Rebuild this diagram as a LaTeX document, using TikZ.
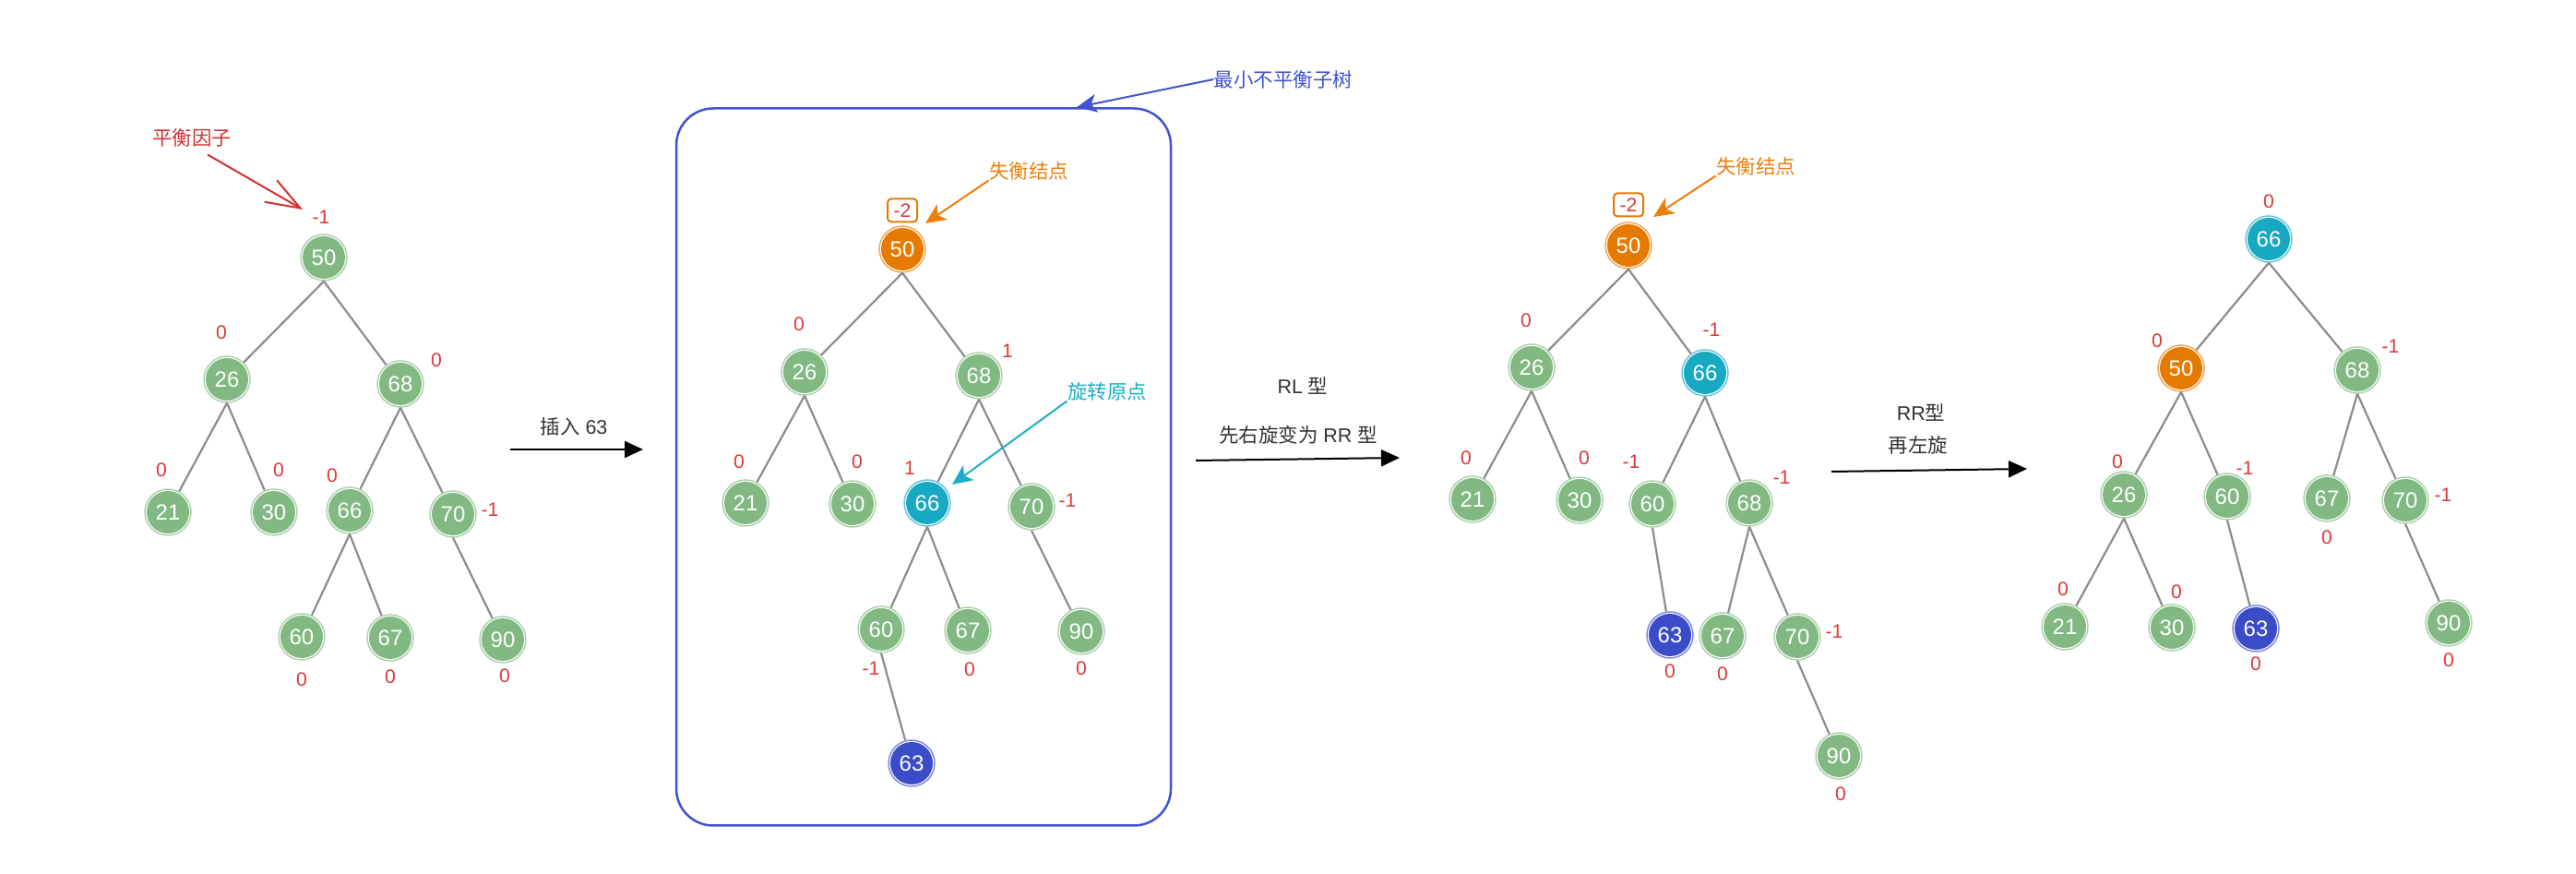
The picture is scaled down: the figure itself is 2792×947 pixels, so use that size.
\documentclass[tikz,border=0pt]{standalone}
\usepackage{fontspec}
\setmainfont{Liberation Sans}
\newfontfamily\cjk{Noto Sans CJK SC}
\usetikzlibrary{arrows.meta,positioning}

\definecolor{ndgreen}{HTML}{82B983}
\definecolor{ndorange}{HTML}{E67A00}
\definecolor{ndcyan}{HTML}{17A9C1}
\definecolor{ndblue}{HTML}{3A4CC8}
\definecolor{bfred}{HTML}{DB3838}
\definecolor{linkgray}{HTML}{8C8C8C}
\definecolor{boxblue}{HTML}{4054CF}
\definecolor{notered}{HTML}{D32F2F}
\definecolor{noteorange}{HTML}{EA7F0B}
\definecolor{notecyan}{HTML}{1CAEC7}
\definecolor{txtgray}{HTML}{333333}

\begin{document}
\begin{tikzpicture}[
  x=0.1mm, y=-0.1mm, on grid,
  >={Triangle[length=2mm, width=1.8mm]},
  nd/.style={circle, minimum size=5mm, inner sep=0pt, fill=white, draw=#1!65, line width=0.15mm,
    text=white, font=\fontsize{6.8}{8}\selectfont,
    path picture={\fill[#1] (path picture bounding box.center) circle (2.3mm);}},
  nd/.default=ndgreen,
  bf/.style={text=bfred, inner sep=0pt, font=\fontsize{6}{7}\selectfont},
  fbox/.style={draw=ndorange, line width=0.2mm, rounded corners=0.4mm, minimum width=3.2mm,
    minimum height=2.5mm, inner sep=0pt, text=bfred, font=\fontsize{6}{7}\selectfont},
  txt/.style={inner sep=0pt, font=\fontsize{6.1}{7}\selectfont},
  subbox/.style={draw=boxblue, line width=0.25mm, rounded corners=4mm, minimum width=53.6mm,
    minimum height=77.7mm, inner sep=0pt},
  link/.style={draw=linkgray, line width=0.22mm},
  move/.style={->, line width=0.2mm},
  note/.style={line width=0.2mm, -{Stealth[length=2.2mm, width=2mm, inset=0.6mm]}},
  barb/.style={draw=notered, line width=0.2mm, -{Straight Barb[length=3.7mm, width=2.7mm]}}
]
  \useasboundingbox (0,0) rectangle (2792,947);

  \node[nd] (a50) at (351,279) {50};
  \node[nd, below left=13.2mm and 10.5mm of a50] (a26) {26};
  \node[nd, below right=13.7mm and 8.3mm of a50] (a68) {68};
  \node[nd, below left=14.4mm and 6.4mm of a26] (a21) {21};
  \node[nd, below right=14.4mm and 5.1mm of a26] (a30) {30};
  \node[nd, below left=13.7mm and 5.5mm of a68] (a66) {66};
  \node[nd, below right=14.1mm and 5.7mm of a68] (a70) {70};
  \node[nd, below left=13.7mm and 5.2mm of a66] (a60) {60};
  \node[nd, below right=13.8mm and 4.4mm of a66] (a67) {67};
  \node[nd, below right=13.6mm and 5.4mm of a70] (a90) {90};

  \node[bf, above left=4.4mm and 0.3mm of a50] (fa50) {-1};
  \node[bf, above left=5.1mm and 0.6mm of a26] (fa26) {0};
  \node[bf, above right=2.6mm and 3.9mm of a68] (fa68) {0};
  \node[bf, above left=4.6mm and 0.7mm of a21] (fa21) {0};
  \node[bf, above right=4.6mm and 0.5mm of a30] (fa30) {0};
  \node[bf, above left=3.8mm and 1.9mm of a66] (fa66) {0};
  \node[bf, above right=0.5mm and 4mm of a70] (fa70) {-1};
  \node[bf, below=4.6mm of a60] (fa60) {0};
  \node[bf, below=4.2mm of a67] (fa67) {0};
  \node[bf, below right=3.9mm and 0.2mm of a90] (fa90) {0};

  \draw[link] (a50.south) -- (a26);
  \draw[link] (a50.south) -- (a68);
  \draw[link] (a26.south) -- (a21);
  \draw[link] (a26.south) -- (a30);
  \draw[link] (a68.south) -- (a66);
  \draw[link] (a68.south) -- (a70);
  \draw[link] (a66.south) -- (a60);
  \draw[link] (a66.south) -- (a67);
  \draw[link] (a70.south) -- (a90);

  \node[txt, text=notered] (s0) at (208,149) {\cjk 平衡因子};
  \coordinate[above left=0.8mm and 2mm of fa50] (p0);
  \draw[barb] ([xshift=1.7mm, yshift=-0.8mm]s0.south) -- (p0);

  \node[txt, text=txtgray] (m1) at (622,462) {{\cjk 插入} 63};
  \coordinate (m1a) at (553,487);
  \coordinate (m1b) at (697,487);
  \draw[move] (m1a) -- (m1b);

  \node[subbox] (sub) at (1001,506) {};
  \node[nd=ndorange] (b50) at (978,270) {50};
  \node[nd, below left=13.3mm and 10.6mm of b50] (b26) {26};
  \node[nd, below right=13.7mm and 8.3mm of b50] (b68) {68};
  \node[nd, below left=14.2mm and 6.4mm of b26] (b21) {21};
  \node[nd, below right=14.3mm and 5.2mm of b26] (b30) {30};
  \node[nd=ndcyan, below left=13.8mm and 5.6mm of b68] (b66) {66};
  \node[nd, below right=14.2mm and 5.7mm of b68] (b70) {70};
  \node[nd, below left=13.7mm and 5mm of b66] (b60) {60};
  \node[nd, below right=13.8mm and 4.4mm of b66] (b67) {67};
  \node[nd, below right=13.5mm and 5.4mm of b70] (b90) {90};
  \node[nd=ndblue, below right=14.5mm and 3.3mm of b60] (b63) {63};

  \node[fbox, above=4.2mm of b50] (fb50) {-2};
  \node[bf, above left=5.2mm and 0.6mm of b26] (fb26) {0};
  \node[bf, above right=2.7mm and 3.1mm of b68] (fb68) {1};
  \node[bf, above left=4.5mm and 0.7mm of b21] (fb21) {0};
  \node[bf, above right=4.6mm and 0.5mm of b30] (fb30) {0};
  \node[bf, above left=3.8mm and 1.9mm of b66] (fb66) {1};
  \node[bf, above right=0.7mm and 3.9mm of b70] (fb70) {-1};
  \node[bf, below left=4.2mm and 1.1mm of b60] (fb60) {-1};
  \node[bf, below right=4.2mm and 0.2mm of b67] (fb67) {0};
  \node[bf, below=4mm of b90] (fb90) {0};

  \draw[link] (b50.south) -- (b26);
  \draw[link] (b50.south) -- (b68);
  \draw[link] (b26.south) -- (b21);
  \draw[link] (b26.south) -- (b30);
  \draw[link] (b68.south) -- (b66);
  \draw[link] (b68.south) -- (b70);
  \draw[link] (b66.south) -- (b60);
  \draw[link] (b66.south) -- (b67);
  \draw[link] (b70.south) -- (b90);
  \draw[link] (b60.south) -- (b63);

  \node[txt, text=noteorange] (s1) at (1115,185) {\cjk 失衡结点};
  \coordinate[above right=2.8mm and 2.5mm of b50] (p1);
  \draw[note, noteorange] (s1.south west) -- (p1);
  \node[txt, text=notecyan] (s2) at (1200,424) {\cjk 旋转原点};
  \coordinate[above right=2mm and 2.7mm of b66] (p2);
  \draw[note, notecyan] (s2.south west) -- (p2);
  \node[txt, text=boxblue] (s3) at (1391,86) {\cjk 最小不平衡子树};
  \coordinate[right=16.6mm of sub.north] (p3);
  \draw[note, boxblue] (s3.west) -- (p3);

  \node[txt, text=txtgray] (m2) at (1412,418) {RL {\cjk 型}};
  \node[txt, text=txtgray] (m3) at (1407,471) {{\cjk 先右旋变为} RR {\cjk 型}};
  \coordinate (m2a) at (1296,499);
  \coordinate (m2b) at (1517,496);
  \draw[move] (m2a) -- (m2b);

  \node[nd=ndorange] (c50) at (1765,266) {50};
  \node[nd, below left=13.2mm and 10.5mm of c50] (c26) {26};
  \node[nd=ndcyan, below right=13.8mm and 8.3mm of c50] (c66) {66};
  \node[nd, below left=14.3mm and 6.4mm of c26] (c21) {21};
  \node[nd, below right=14.4mm and 5.2mm of c26] (c30) {30};
  \node[nd, below left=14.2mm and 5.7mm of c66] (c60) {60};
  \node[nd, below right=14.1mm and 4.8mm of c66] (c68) {68};
  \node[nd=ndblue, below right=14.2mm and 1.9mm of c60] (c63) {63};
  \node[nd, below left=14.4mm and 2.9mm of c68] (c67) {67};
  \node[nd, below right=14.5mm and 5.2mm of c68] (c70) {70};
  \node[nd, below right=12.9mm and 4.5mm of c70] (c90) {90};

  \node[fbox, above=4.4mm of c50] (fc50) {-2};
  \node[bf, above left=5.1mm and 0.6mm of c26] (fc26) {0};
  \node[bf, above right=4.7mm and 0.7mm of c66] (fc66) {-1};
  \node[bf, above left=4.5mm and 0.7mm of c21] (fc21) {0};
  \node[bf, above right=4.6mm and 0.5mm of c30] (fc30) {0};
  \node[bf, above left=4.6mm and 2.3mm of c60] (fc60) {-1};
  \node[bf, above right=2.8mm and 3.5mm of c68] (fc68) {-1};
  \node[bf, below=3.9mm of c63] (fc63) {0};
  \node[bf, below=4.1mm of c67] (fc67) {0};
  \node[bf, above right=0.6mm and 4mm of c70] (fc70) {-1};
  \node[bf, below right=4.1mm and 0.2mm of c90] (fc90) {0};

  \draw[link] (c50.south) -- (c26);
  \draw[link] (c50.south) -- (c66);
  \draw[link] (c26.south) -- (c21);
  \draw[link] (c26.south) -- (c30);
  \draw[link] (c66.south) -- (c60);
  \draw[link] (c66.south) -- (c68);
  \draw[link] (c60.south) -- (c63);
  \draw[link] (c68.south) -- (c67);
  \draw[link] (c68.south) -- (c70);
  \draw[link] (c70.south) -- (c90);

  \node[txt, text=noteorange] (s4) at (1903,180) {\cjk 失衡结点};
  \coordinate[above right=3.1mm and 2.7mm of c50] (p4);
  \draw[note, noteorange] (s4.south west) -- (p4);

  \node[txt, text=txtgray] (m4) at (2082,447) {RR{\cjk 型}};
  \node[txt, text=txtgray] (m5) at (2079,482) {\cjk 再左旋};
  \coordinate (m4a) at (1985,511);
  \coordinate (m4b) at (2197,508);
  \draw[move] (m4a) -- (m4b);

  \node[nd=ndcyan] (d66) at (2459,259) {66};
  \node[nd=ndorange, below left=14mm and 9.5mm of d66] (d50) {50};
  \node[nd, below right=14.2mm and 9.6mm of d66] (d68) {68};
  \node[nd, below left=13.7mm and 6.2mm of d50] (d26) {26};
  \node[nd, below right=13.9mm and 5mm of d50] (d60) {60};
  \node[nd, below left=13.9mm and 3.3mm of d68] (d67) {67};
  \node[nd, below right=14.1mm and 5.2mm of d68] (d70) {70};
  \node[nd, below left=14.3mm and 6.4mm of d26] (d21) {21};
  \node[nd, below right=14.4mm and 5.2mm of d26] (d30) {30};
  \node[nd=ndblue, below right=14.3mm and 3.1mm of d60] (d63) {63};
  \node[nd, below right=13.3mm and 4.7mm of d70] (d90) {90};

  \node[bf, above=4.1mm of d66] (fd66) {0};
  \node[bf, above left=3mm and 2.6mm of d50] (fd50) {0};
  \node[bf, above right=2.6mm and 3.6mm of d68] (fd68) {-1};
  \node[bf, above left=3.6mm and 0.7mm of d26] (fd26) {0};
  \node[bf, above right=3.1mm and 1.9mm of d60] (fd60) {-1};
  \node[bf, below=4.2mm of d67] (fd67) {0};
  \node[bf, above right=0.6mm and 4.1mm of d70] (fd70) {-1};
  \node[bf, above left=4.1mm and 0.2mm of d21] (fd21) {0};
  \node[bf, above right=3.9mm and 0.5mm of d30] (fd30) {0};
  \node[bf, below=3.8mm of d63] (fd63) {0};
  \node[bf, below=4mm of d90] (fd90) {0};

  \draw[link] (d66.south) -- (d50);
  \draw[link] (d66.south) -- (d68);
  \draw[link] (d50.south) -- (d26);
  \draw[link] (d50.south) -- (d60);
  \draw[link] (d68.south) -- (d67);
  \draw[link] (d68.south) -- (d70);
  \draw[link] (d26.south) -- (d21);
  \draw[link] (d26.south) -- (d30);
  \draw[link] (d60.south) -- (d63);
  \draw[link] (d70.south) -- (d90);
\end{tikzpicture}
\end{document}
